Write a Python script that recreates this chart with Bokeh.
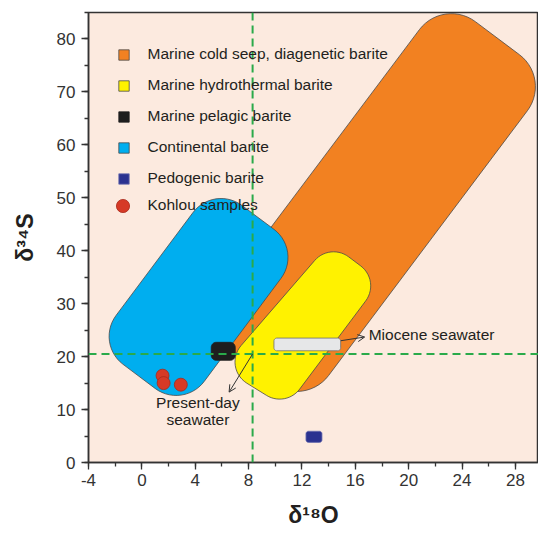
import numpy as np
from bokeh.plotting import figure
from bokeh.models import (Range1d, FixedTicker, Span, Label, Legend, LegendItem,
                          Arrow, OpenHead)
from bokeh.embed import file_html
from bokeh.resources import INLINE

# ---------------- data ----------------
x_ticks = [-4, 0, 4, 8, 12, 16, 20, 24, 28]
x_minor = [-4, -2, 0, 2, 4, 6, 8, 10, 12, 14, 16, 18, 20, 22, 24, 26, 28, 30]
y_ticks = [0, 10, 20, 30, 40, 50, 60, 70, 80]
y_minor = [0, 5, 10, 15, 20, 25, 30, 35, 40, 45, 50, 55, 60, 65, 70, 75, 80, 85]

# field outlines (unrounded corners), delta18O / delta34S
cold_seep_x = [30.7, 22.6, 4.1, 12.2]
cold_seep_y = [72.5, 87.8, 25.7, 10.4]
continental_x = [12.0, 5.4, -3.5, 3.1]
continental_y = [40.1, 52.5, 22.5, 10.0]
hydrothermal_x = [17.9, 14.1, 6.0, 10.8]
hydrothermal_y = [34.3, 41.5, 17.9, 10.4]
pelagic_x = [5.2, 7.0]
pelagic_y = [19.3, 22.7]
pedogenic_x = [12.3, 13.5]
pedogenic_y = [3.8, 5.9]
miocene_x = [9.9, 14.9]
miocene_y = [21.1, 23.5]
kohlou_x = [1.55, 1.63, 2.92]
kohlou_y = [16.4, 15.0, 14.7]
present_day_o18 = 8.3
present_day_s34 = 20.5

legend_labels = ["Marine cold seep, diagenetic barite", "Marine hydrothermal barite",
                 "Marine pelagic barite", "Continental barite", "Pedogenic barite",
                 "Kohlou samples"]
x_title = "δ¹⁸O"
y_title = "δ³⁴S"

# ---------------- layout ----------------
W, H = 538, 533
BL, BR, BT, BB = 88, 0, 12, 71
X0, X1 = -4.0, 29.73
Y0, Y1 = 0.0, 85.0
FW, FH = W - BL - BR, H - BT - BB
SX, SY = FW / (X1 - X0), FH / (Y1 - Y0)

FONT = "Liberation Sans"
INK = "#333333"
TC = "#231F20"


def rounded(xs, ys, r_px, n=14):
    px = np.array(xs, float) * SX
    py = np.array(ys, float) * SY
    m = len(px)
    ox, oy = [], []
    for i in range(m):
        p0 = np.array([px[i - 1], py[i - 1]])
        p1 = np.array([px[i], py[i]])
        p2 = np.array([px[(i + 1) % m], py[(i + 1) % m]])
        l1 = np.linalg.norm(p0 - p1)
        l2 = np.linalg.norm(p2 - p1)
        u1 = (p0 - p1) / l1
        u2 = (p2 - p1) / l2
        th = np.arccos(np.clip(np.dot(u1, u2), -1, 1))
        r = min(r_px, 0.49 * min(l1, l2) * np.tan(th / 2))
        t = r / np.tan(th / 2)
        a = p1 + u1 * t
        b = p1 + u2 * t
        bis = (u1 + u2) / np.linalg.norm(u1 + u2)
        c = p1 + bis * r / np.sin(th / 2)
        aa = np.arctan2(a[1] - c[1], a[0] - c[0])
        ab = np.arctan2(b[1] - c[1], b[0] - c[0])
        d = (ab - aa + np.pi) % (2 * np.pi) - np.pi
        for k in range(n + 1):
            ang = aa + d * k / n
            ox.append((c[0] + r * np.cos(ang)) / SX)
            oy.append((c[1] + r * np.sin(ang)) / SY)
    return ox, oy


def box(xr, yr):
    return [xr[0], xr[1], xr[1], xr[0]], [yr[0], yr[0], yr[1], yr[1]]


p = figure(width=W, height=H, output_backend="svg", toolbar_location=None,
           x_range=Range1d(X0, X1), y_range=Range1d(Y0, Y1),
           min_border_left=BL, min_border_right=BR, min_border_top=BT,
           min_border_bottom=BB)
p.background_fill_color = "#FCEADF"
p.border_fill_color = "white"
p.outline_line_color = INK
p.outline_line_width = 1.5
p.xgrid.visible = False
p.ygrid.visible = False

for ax, tk, mn in ((p.xaxis, x_ticks, x_minor), (p.yaxis, y_ticks, y_minor)):
    ax.ticker = FixedTicker(ticks=tk, minor_ticks=mn)
    ax.major_label_overrides = {t: str(t) for t in tk}
    ax.axis_line_color = INK
    ax.axis_line_width = 1.5
    ax.major_tick_line_color = INK
    ax.major_tick_line_width = 1.3
    ax.minor_tick_line_color = INK
    ax.minor_tick_line_width = 1.3
    ax.major_tick_in = 0
    ax.major_tick_out = 7
    ax.minor_tick_in = 0
    ax.minor_tick_out = 4
    ax.major_label_text_font = FONT
    ax.major_label_text_font_size = "17px"
    ax.major_label_text_color = INK
    ax.axis_label_text_font = FONT
    ax.axis_label_text_font_style = "bold"
    ax.axis_label_text_font_size = "23px"
    ax.axis_label_text_color = TC
p.xaxis.major_label_standoff = 4
p.yaxis.major_label_standoff = 6
p.xaxis.axis_label = x_title
p.yaxis.axis_label = y_title
p.xaxis.axis_label_standoff = 13
p.yaxis.axis_label_standoff = 16

LINE = "#4a4a4a"
ox, oy = rounded(cold_seep_x, cold_seep_y, 40)
r_orange = p.patch(ox, oy, fill_color="#F28121", line_color=LINE, line_width=0.8)
bx, by = rounded(continental_x, continental_y, 35)
r_blue = p.patch(bx, by, fill_color="#00AEEF", line_color=LINE, line_width=0.8)
yx, yy = rounded(hydrothermal_x, hydrothermal_y, 25)
r_yellow = p.patch(yx, yy, fill_color="#FFF200", line_color=LINE, line_width=0.8)
mx, my = rounded(*box(miocene_x, miocene_y), 3)
p.patch(mx, my, fill_color="#E6E7E8", line_color="#6d6d6d", line_width=0.8)
kx, ky = rounded(*box(pelagic_x, pelagic_y), 5)
r_black = p.patch(kx, ky, fill_color="#1E1E1E", line_color="#1E1E1E", line_width=0.8)
nx, ny = rounded(*box(pedogenic_x, pedogenic_y), 2.5)
r_navy = p.patch(nx, ny, fill_color="#2B3290", line_color="#6b6fb0", line_width=0.8)

p.add_layout(Span(location=present_day_o18, dimension="height", line_color="#2AAA4A",
                  line_width=2, line_dash="8 5"))
p.add_layout(Span(location=present_day_s34, dimension="width", line_color="#2AAA4A",
                  line_width=2, line_dash="8 5"))

r_red = p.scatter(kohlou_x, kohlou_y, size=13, marker="circle", fill_color="#D63A26",
                  line_color="#A8291A", line_width=0.8)

# annotations
p.add_layout(Arrow(end=OpenHead(size=7, line_color=INK, line_width=1),
                   x_start=present_day_o18, y_start=present_day_s34,
                   x_end=6.54, y_end=13.3, line_color=INK, line_width=1))
p.add_layout(Arrow(end=OpenHead(size=7, line_color=INK, line_width=1),
                   x_start=miocene_x[1], y_start=23.0, x_end=16.7, y_end=23.7,
                   line_color=INK, line_width=1))
for txt, yv in (("Present-day", 11.33), ("seawater", 8.2)):
    p.add_layout(Label(x=4.2, y=yv, text=txt, text_align="center", text_baseline="middle",
                       text_font=FONT, text_font_size="15.5px", text_color=TC))
p.add_layout(Label(x=17.0, y=24.15, text="Miocene seawater", text_align="left",
                   text_baseline="middle", text_font=FONT, text_font_size="15.5px",
                   text_color=TC))

# legends (location = bottom-left corner of the legend box, frame pixels)
leg1 = Legend(items=[LegendItem(label=legend_labels[0], renderers=[r_orange]),
                     LegendItem(label=legend_labels[1], renderers=[r_yellow]),
                     LegendItem(label=legend_labels[2], renderers=[r_black]),
                     LegendItem(label=legend_labels[3], renderers=[r_blue]),
                     LegendItem(label=legend_labels[4], renderers=[r_navy])],
              location=(28.5, 275), glyph_width=13, glyph_height=13,
              label_height=13, spacing=13, label_standoff=18, padding=0, margin=0,
              background_fill_alpha=0, border_line_alpha=0,
              label_text_font=FONT, label_text_font_size="15.5px",
              label_text_color=TC)
leg2 = Legend(items=[LegendItem(label=legend_labels[5], renderers=[r_red])],
              location=(17.5, FH - 176.5 - 33), glyph_width=33, glyph_height=33,
              label_height=13, spacing=0, label_standoff=9, padding=0, margin=0,
              background_fill_alpha=0, border_line_alpha=0,
              label_text_font=FONT, label_text_font_size="15.5px",
              label_text_color=TC)
p.add_layout(leg1)
p.add_layout(leg2)

open("out.html", "w").write(file_html(p, INLINE))
